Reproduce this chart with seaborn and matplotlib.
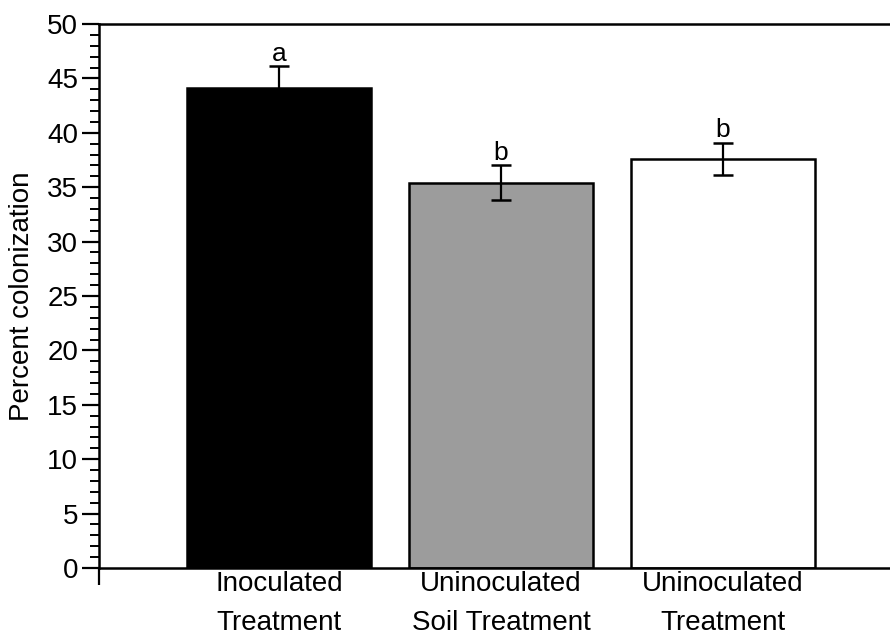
import matplotlib
matplotlib.use("Agg")
import matplotlib.pyplot as plt
import seaborn as sns
import pandas as pd
from matplotlib.ticker import MultipleLocator

# ---- data ----
categories = ["Inoculated\nTreatment", "Uninoculated\nSoil Treatment", "Uninoculated\nTreatment"]
values = [44.1, 35.4, 37.6]
errors = [2.0, 1.6, 1.5]
letters = ["a", "b", "b"]
bar_colors = ["#000000", "#9c9c9c", "#ffffff"]

sns.set_style("white")
plt.rcParams['font.family'] = ['Liberation Sans', 'DejaVu Sans']
plt.rcParams['text.color'] = 'black'
plt.rcParams['axes.labelcolor'] = 'black'
plt.rcParams['xtick.color'] = 'black'
plt.rcParams['ytick.color'] = 'black'

fig = plt.figure(figsize=(8.9, 6.41), dpi=100)
ax = fig.add_axes([99/890, 73/641, 791/890, 544/641])

df = pd.DataFrame({"cat": categories, "val": values})
sns.barplot(data=df, x="cat", y="val", hue="cat", palette=bar_colors,
            legend=False, width=0.83, edgecolor="black", linewidth=1.8,
            errorbar=None, ax=ax, zorder=2)

xs = list(range(len(categories)))
ax.errorbar(xs, values, yerr=errors, fmt="none", ecolor="black",
            elinewidth=1.6, capsize=7, capthick=1.8, zorder=3)

for x, v, e, t in zip(xs, values, errors, letters):
    ax.annotate(t, (x, v + e), xytext=(0, 0.5), textcoords="offset points",
                ha="center", va="bottom", fontsize=19, color="black")

ax.set_ylim(0, 50)
ax.set_xlim(-0.811, 2.752)
ax.yaxis.set_major_locator(MultipleLocator(5))
ax.yaxis.set_minor_locator(MultipleLocator(1))
ax.tick_params(axis="y", which="major", length=12, width=1.6, direction="out",
               labelsize=20, pad=3, left=True, colors="black")
ax.tick_params(axis="y", which="minor", length=6.5, width=1.4, direction="out",
               left=True, colors="black")

# x ticks: labels only, plus a small tick at the axis origin
ax.set_xticks(xs)
ax.set_xticklabels(categories, fontsize=20, linespacing=1.65, color="black")
ax.tick_params(axis="x", which="major", length=0, pad=2)
ax.set_xticks([-0.811], minor=True)
ax.tick_params(axis="x", which="minor", length=12, width=1.6, direction="out",
               bottom=True, colors="black")

ax.set_xlabel("")
ax.set_ylabel("Percent colonization", fontsize=20, labelpad=9, color="black")

for side in ["left", "bottom", "top"]:
    ax.spines[side].set_visible(True)
    ax.spines[side].set_linewidth(1.8)
    ax.spines[side].set_color("black")
ax.spines["right"].set_visible(False)

fig.savefig("out.png", dpi=100)
